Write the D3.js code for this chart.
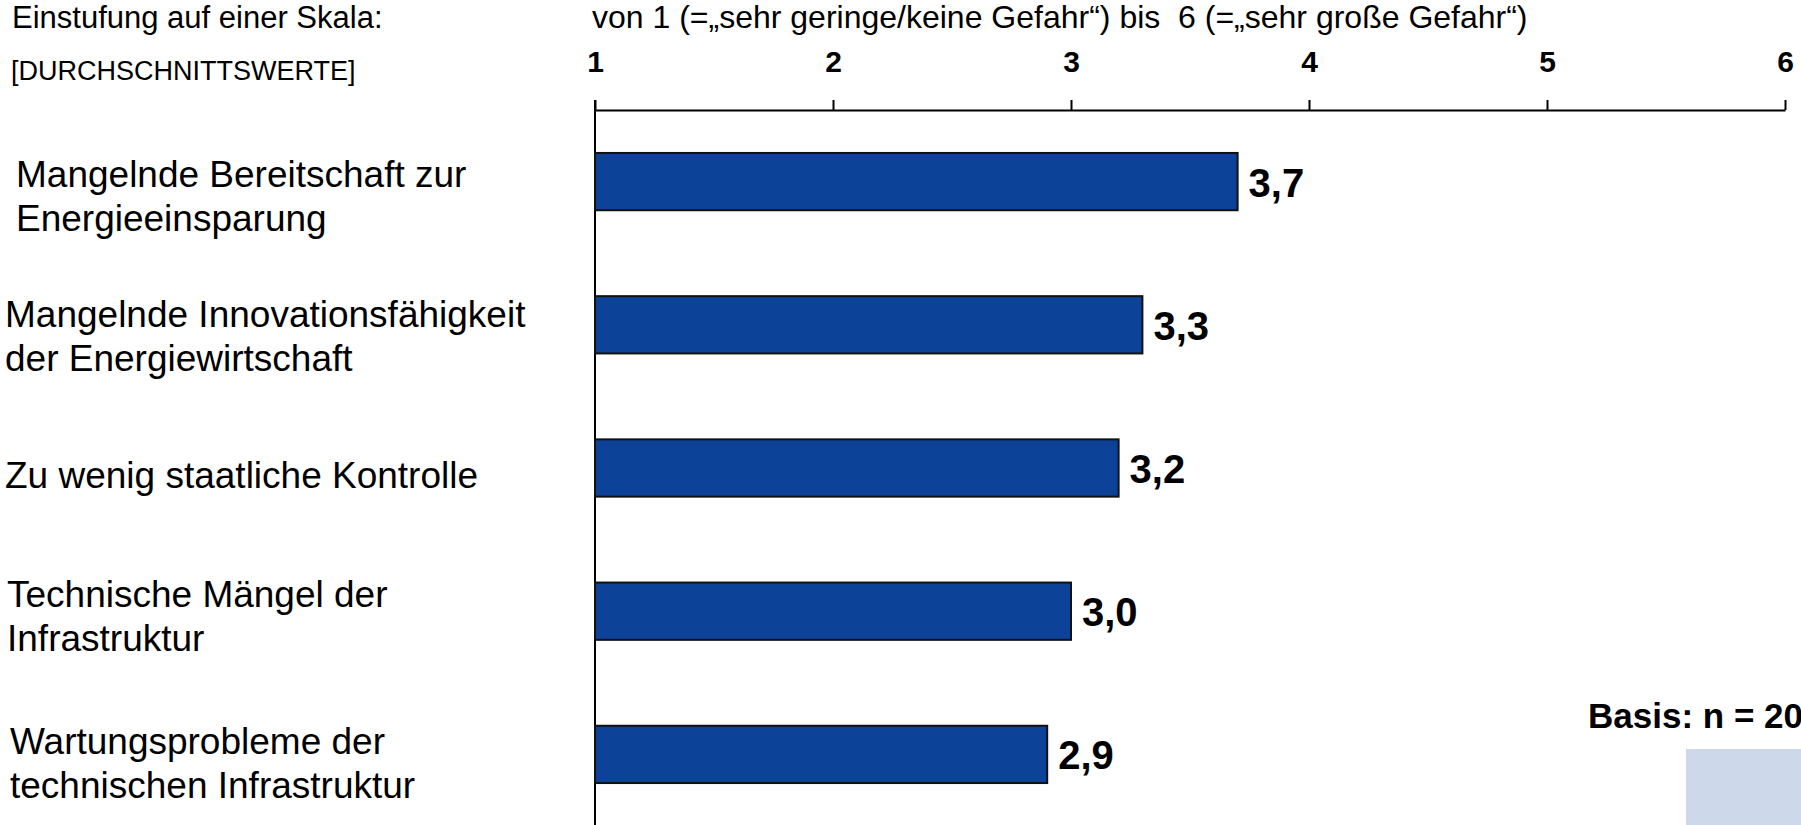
<!DOCTYPE html>
<html>
<head>
<meta charset="utf-8">
<script src="https://cdn.jsdelivr.net/npm/d3@7"></script>
<style>
  html, body { margin: 0; padding: 0; background: #fff; overflow: hidden; }
  svg { display: block; font-family: "Liberation Sans", Arial, sans-serif; }
</style>
</head>
<body>
<svg id="chart" width="1801" height="825"></svg>
<script>
// ---- data ----
const categories = [
  "Mangelnde Bereitschaft zur\nEnergieeinsparung",
  "Mangelnde Innovationsfähigkeit\nder Energiewirtschaft",
  "Zu wenig staatliche Kontrolle",
  "Technische Mängel der\nInfrastruktur",
  "Wartungsprobleme der\ntechnischen Infrastruktur"
];
const values = [3.7, 3.3, 3.2, 3.0, 2.9];
const tickValues = [1, 2, 3, 4, 5, 6];
const headerLeft = "Einstufung auf einer Skala:";
const headerLeft2 = "[DURCHSCHNITTSWERTE]";
const headerScale = "von 1 (=„sehr geringe/keine Gefahr“) bis  6 (=„sehr große Gefahr“)";
const basisText = "Basis: n = 200";

// ---- layout ----
const W = 1801, H = 825;
const labelIndent = [16, 5, 5, 7, 10];
const labelShift = [5, 2, 0, -4, 0];
const svg = d3.select("#chart");

const x = d3.scaleLinear().domain([1, 6]).range([595, 1785]);
const y = d3.scaleBand().domain(categories).range([110, 826])
  .paddingInner(0.6).paddingOuter(0.3);

const fmt = v => d3.format(".1f")(v).replace(".", ",");

// header texts
svg.append("text").attr("x", 12).attr("y", 28)
  .attr("font-size", 31).attr("fill", "#000").text(headerLeft);
svg.append("text").attr("x", 11).attr("y", 80)
  .attr("font-size", 27).attr("fill", "#000").text(headerLeft2);
svg.append("text").attr("x", 592).attr("y", 28)
  .attr("font-size", 32).attr("fill", "#000")
  .style("white-space", "pre").text(headerScale);

// top axis
const axis = d3.axisTop(x).tickValues(tickValues).tickFormat(d3.format("d"))
  .tickSizeInner(10).tickSizeOuter(0).tickPadding(28);
const gAxis = svg.append("g").attr("transform", "translate(0,110)").call(axis);
gAxis.attr("font-size", null).attr("font-family", null);
gAxis.select(".domain").attr("stroke", "#000").attr("stroke-width", 2);
gAxis.selectAll(".tick line").attr("stroke", "#000").attr("stroke-width", 2);
gAxis.selectAll(".tick text")
  .style("font-family", "'Liberation Sans', Arial, sans-serif")
  .style("font-size", "30px").style("font-weight", "bold").attr("fill", "#000");

// vertical baseline
svg.append("line")
  .attr("x1", x(1)).attr("x2", x(1)).attr("y1", 100).attr("y2", H)
  .attr("stroke", "#000").attr("stroke-width", 2);

// bars
const data = categories.map((c, i) => ({ c, v: values[i], i }));
svg.selectAll("rect.bar").data(data).join("rect")
  .attr("class", "bar")
  .attr("x", x(1))
  .attr("y", d => y(d.c))
  .attr("width", d => x(d.v) - x(1))
  .attr("height", y.bandwidth())
  .attr("fill", "#0c4399")
  .attr("stroke", "#111")
  .attr("stroke-width", 2);

// value labels
svg.selectAll("text.val").data(data).join("text")
  .attr("class", "val")
  .attr("x", d => x(d.v) + 11)
  .attr("y", d => y(d.c) + y.bandwidth() / 2 + 15)
  .attr("font-size", 40).attr("font-weight", "bold").attr("fill", "#000")
  .text(d => fmt(d.v));

// category labels
const lineH = 44;
data.forEach(d => {
  const lines = d.c.split("\n");
  const cy = y(d.c) + y.bandwidth() / 2;
  const t = svg.append("text").attr("font-size", 37).attr("fill", "#000");
  lines.forEach((ln, k) => {
    const base = lines.length === 1 ? cy + 20 : cy + labelShift[d.i] + k * lineH;
    t.append("tspan")
      .attr("x", labelIndent[d.i])
      .attr("y", base)
      .text(ln);
  });
});

// basis note and light box
svg.append("text").attr("x", 1588).attr("y", 728)
  .attr("font-size", 35).attr("font-weight", "bold").attr("fill", "#000")
  .text(basisText);
svg.append("rect").attr("x", 1686).attr("y", 749)
  .attr("width", W - 1686).attr("height", H - 749)
  .attr("fill", "#cdd8ea");
</script>
</body>
</html>
